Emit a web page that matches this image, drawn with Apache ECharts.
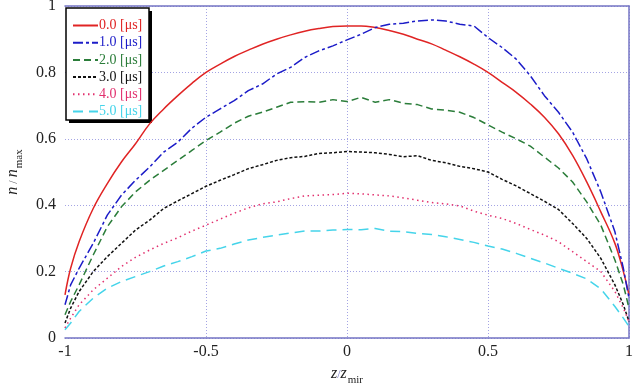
<!DOCTYPE html>
<html>
<head>
<meta charset="utf-8">
<script src="https://cdn.jsdelivr.net/npm/echarts@6/dist/echarts.min.js"></script>
<style>
  html, body { margin: 0; padding: 0; background: #fff; }
  #chart { width: 635px; height: 386px; }
</style>
</head>
<body>
<div id="chart"></div>
<script>
  // z / z_mir
  const xs = [-1, -0.98, -0.95, -0.9, -0.85, -0.8, -0.75, -0.7, -0.65, -0.6, -0.55, -0.5, -0.45, -0.4, -0.35, -0.3, -0.25, -0.2, -0.15, -0.1, -0.05,
    0, 0.05, 0.1, 0.15, 0.2, 0.25, 0.3, 0.35, 0.4, 0.45, 0.5, 0.55, 0.6, 0.65, 0.7, 0.75, 0.8, 0.85, 0.9, 0.95, 0.98, 1]

  // n / n_max for every time step
  const t00 = [0.13, 0.21, 0.29, 0.39, 0.465, 0.53, 0.585, 0.645, 0.69, 0.73, 0.767, 0.80, 0.825, 0.848, 0.867, 0.885, 0.90, 0.913, 0.924, 0.932, 0.938,
    0.94, 0.94, 0.935, 0.926, 0.915, 0.90, 0.886, 0.867, 0.847, 0.825, 0.80, 0.77, 0.74, 0.705, 0.665, 0.615, 0.55, 0.47, 0.38, 0.285, 0.20, 0.13]
  const t10 = [0.10, 0.16, 0.21, 0.285, 0.37, 0.43, 0.475, 0.515, 0.56, 0.59, 0.632, 0.665, 0.69, 0.715, 0.745, 0.765, 0.795, 0.815, 0.845, 0.865, 0.88,
    0.898, 0.915, 0.935, 0.945, 0.948, 0.955, 0.958, 0.955, 0.945, 0.94, 0.905, 0.875, 0.84, 0.79, 0.73, 0.68, 0.62, 0.54, 0.44, 0.32, 0.21, 0.12]
  const t20 = [0.07, 0.11, 0.16, 0.25, 0.335, 0.395, 0.44, 0.475, 0.505, 0.535, 0.565, 0.595, 0.62, 0.647, 0.668, 0.68, 0.695, 0.71, 0.712, 0.71, 0.718,
    0.712, 0.725, 0.71, 0.718, 0.707, 0.703, 0.69, 0.686, 0.68, 0.664, 0.642, 0.62, 0.60, 0.578, 0.545, 0.512, 0.47, 0.41, 0.34, 0.235, 0.16, 0.09]
  const t30 = [0.045, 0.09, 0.14, 0.20, 0.245, 0.285, 0.325, 0.355, 0.39, 0.413, 0.435, 0.457, 0.475, 0.492, 0.51, 0.522, 0.535, 0.543, 0.547, 0.556, 0.558,
    0.562, 0.56, 0.558, 0.553, 0.546, 0.549, 0.535, 0.528, 0.517, 0.51, 0.50, 0.478, 0.458, 0.435, 0.412, 0.387, 0.345, 0.30, 0.24, 0.16, 0.10, 0.05]
  const t40 = [0.03, 0.06, 0.10, 0.145, 0.18, 0.215, 0.243, 0.265, 0.285, 0.302, 0.322, 0.34, 0.358, 0.376, 0.392, 0.404, 0.41, 0.42, 0.428, 0.43, 0.432,
    0.436, 0.434, 0.431, 0.428, 0.422, 0.415, 0.408, 0.404, 0.398, 0.382, 0.37, 0.36, 0.345, 0.327, 0.31, 0.29, 0.26, 0.23, 0.20, 0.14, 0.09, 0.05]
  const t50 = [0.025, 0.045, 0.08, 0.12, 0.15, 0.17, 0.185, 0.20, 0.217, 0.23, 0.245, 0.262, 0.27, 0.283, 0.295, 0.303, 0.31, 0.316, 0.322, 0.322, 0.325,
    0.327, 0.326, 0.33, 0.322, 0.32, 0.315, 0.312, 0.305, 0.297, 0.288, 0.277, 0.268, 0.255, 0.24, 0.226, 0.21, 0.195, 0.178, 0.148, 0.095, 0.06, 0.035]

  const names = ['0.0 [μs]', '1.0 [μs]', '2.0 [μs]', '3.0 [μs]', '4.0 [μs]', '5.0 [μs]']
  const colors = ['#e02424', '#1c1cc8', '#2b7d3a', '#111111', '#e2306e', '#45d4ea']
  const dashes = ['solid', [10, 3, 3, 3], [7, 4], [3, 2], [1.5, 3.5], [10, 6]]
  const values = [t00, t10, t20, t30, t40, t50]

  const serif = '"Liberation Serif", "DejaVu Serif", serif'
  const gridColor = '#a4a4e4'
  const axisColor = '#7474c4'

  // italic letters + small upright subscript
  const nameRich = {
    i: { fontFamily: serif, fontStyle: 'italic', fontSize: 16, color: '#222', lineHeight: 18, verticalAlign: 'top' },
    s: { fontFamily: serif, fontSize: 11, color: '#222', lineHeight: 12, padding: [9, 0, 0, 1], verticalAlign: 'top' }
  }

  const chart = echarts.init(document.getElementById('chart'))

  chart.setOption({
    animation: false,
    textStyle: { fontFamily: serif },
    grid: { left: 65, right: 6, top: 6, bottom: 48, outerBoundsMode: 'none' },
    // legend frame and its hard shadow
    graphic: [
      {
        type: 'rect',
        z: 3,
        shape: { x: 69, y: 11, width: 83, height: 112 },
        style: { fill: '#000' }
      },
      {
        type: 'rect',
        z: 3,
        shape: { x: 66, y: 8, width: 83, height: 112 },
        style: { fill: '#fff', stroke: '#000', lineWidth: 1.5 }
      }
    ],
    legend: {
      orient: 'vertical',
      left: 66,
      top: 8,
      z: 4,
      padding: [10.5, 6, 6, 6],
      itemWidth: 25,
      itemHeight: 10,
      itemGap: 3.2,
      itemStyle: { opacity: 0 },
      data: names.map((n, i) => ({ name: n, textStyle: { color: colors[i] } })),
      textStyle: { fontFamily: serif, fontSize: 14, padding: [0, 0, 0, -4] }
    },
    xAxis: [
      {
        type: 'value',
        min: -1,
        max: 1,
        interval: 0.5,
        name: '{i|z}/{i|z}{s|mir}',
        nameLocation: 'middle',
        nameGap: 28,
        nameTextStyle: { rich: nameRich },
        axisLine: { onZero: false, lineStyle: { color: axisColor, width: 1.5 } },
        axisTick: { show: false },
        axisLabel: { color: '#222', fontSize: 16, fontFamily: serif, margin: 6 },
        splitLine: { show: true, showMinLine: false, lineStyle: { color: gridColor, type: [1, 2] } }
      },
      {
        type: 'value',
        position: 'top',
        min: -1,
        max: 1,
        axisLine: { onZero: false, lineStyle: { color: axisColor, width: 1.5 } },
        axisTick: { show: false },
        axisLabel: { show: false },
        splitLine: { show: false }
      }
    ],
    yAxis: [
      {
        type: 'value',
        min: 0,
        max: 1,
        interval: 0.2,
        name: '{i|n} / {i|n}{s|max}',
        nameLocation: 'middle',
        nameGap: 40,
        nameTextStyle: { rich: nameRich },
        axisLine: { show: false, onZero: false },
        axisTick: { show: false },
        axisLabel: { color: '#222', fontSize: 16, fontFamily: serif, margin: 9 },
        splitLine: { show: true, lineStyle: { color: gridColor, type: [1, 2] } }
      },
      {
        type: 'value',
        position: 'right',
        min: 0,
        max: 1,
        axisLine: { show: true, onZero: false, lineStyle: { color: axisColor, width: 1.5 } },
        axisTick: { show: false },
        axisLabel: { show: false },
        splitLine: { show: false }
      }
    ],
    series: values.map((arr, i) => ({
      name: names[i],
      type: 'line',
      symbol: 'none',
      smooth: i === 0 ? 0.4 : false,
      data: xs.map((x, j) => [x, arr[j]]),
      itemStyle: { color: colors[i] },
      lineStyle: { color: colors[i], width: 1.5, type: dashes[i] }
    }))
  })
</script>
</body>
</html>
